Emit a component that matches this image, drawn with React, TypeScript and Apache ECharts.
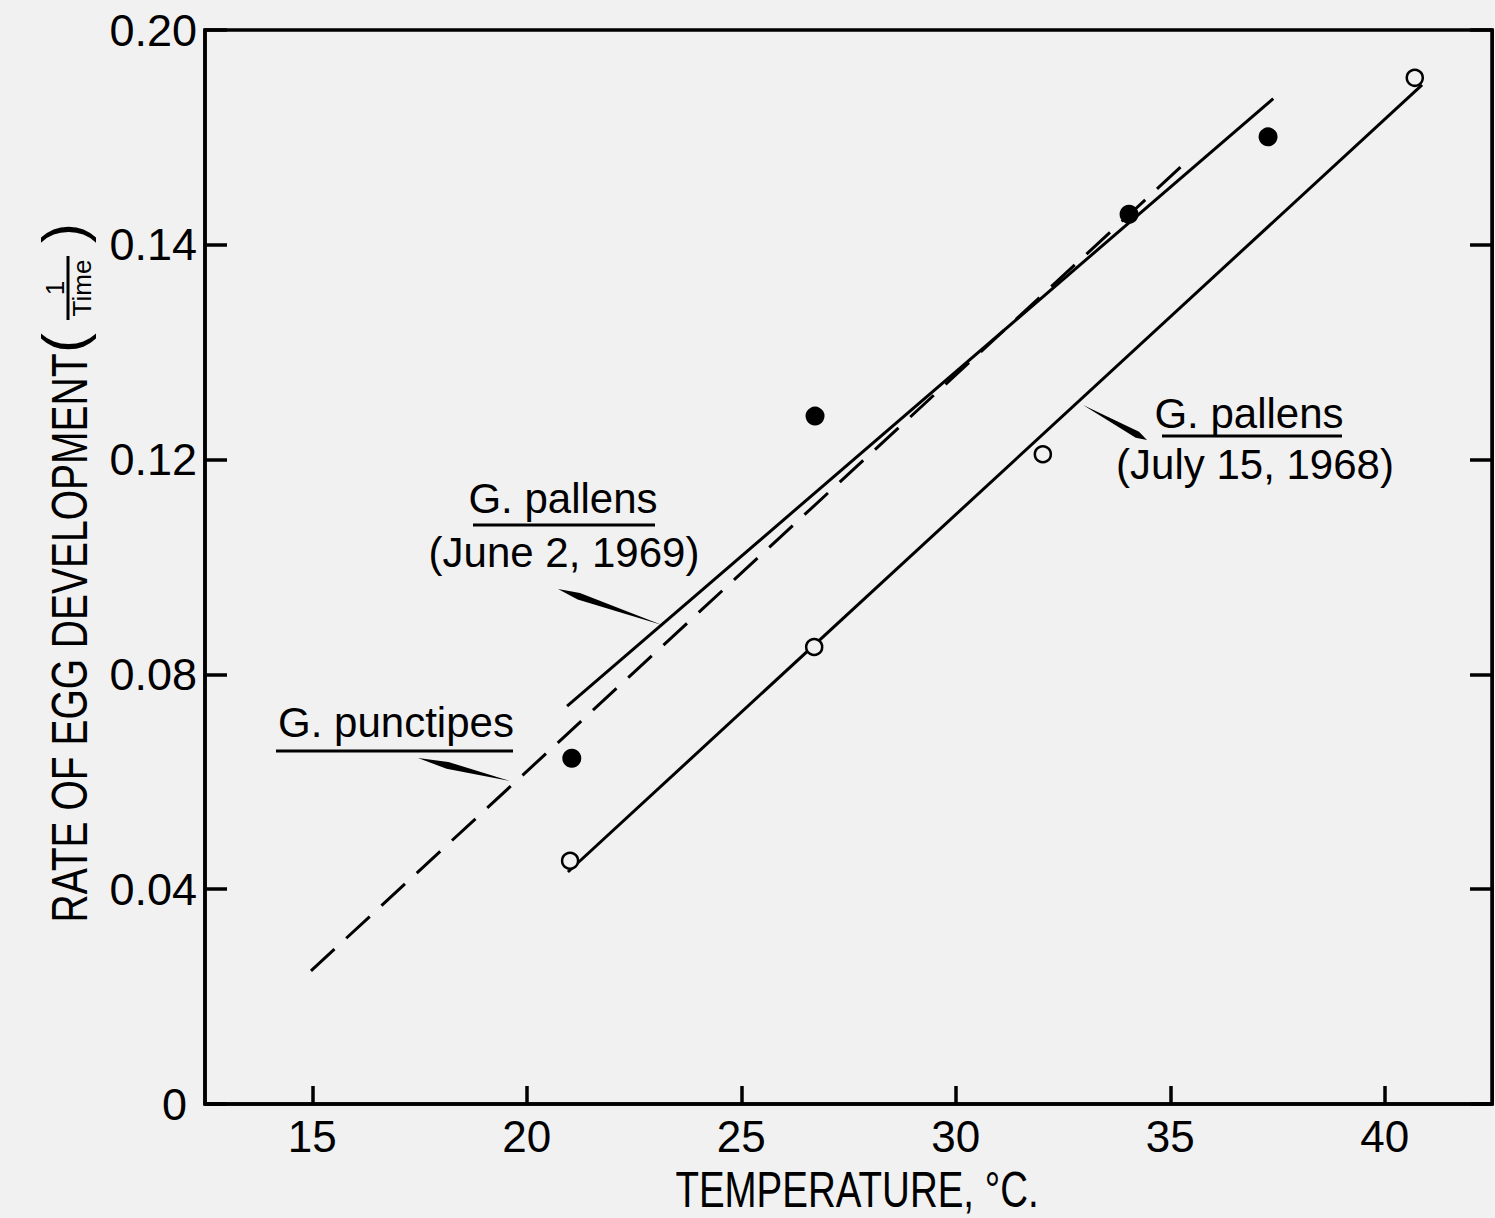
import React, { useEffect, useRef } from "react";
import * as echarts from "echarts";

// ---- data ----
const xTickValues = [15, 20, 25, 30, 35, 40];
const yTickValues = [0, 0.04, 0.08, 0.12, 0.16, 0.2];
const yTickLabels = ["0", "0.04", "0.08", "0.12", "0.14", "0.20"]; // as printed in the original

// G. pallens (June 2, 1969) – filled circles
const pallens1969Points: [number, number][] = [
  [21.05, 0.0644],
  [26.72, 0.1281],
  [34.04, 0.1657],
  [37.28, 0.1801],
];
// G. pallens (July 15, 1968) – open circles
const pallens1968Points: [number, number][] = [
  [21.01, 0.0453],
  [26.7, 0.0851],
  [32.03, 0.121],
  [40.7, 0.1911],
];
// fitted lines
const pallens1969Line: [number, number][] = [
  [20.94, 0.0741],
  [37.4, 0.1872],
];
const pallens1968Line: [number, number][] = [
  [20.96, 0.0432],
  [40.87, 0.1898],
];
const punctipesLine: [number, number][] = [
  [14.97, 0.0248],
  [35.3, 0.1749],
];

const BG = "#f1f1f1";
const INK = "#000";
const SANS = "'Liberation Sans', Arial, sans-serif";

function wedge(ax: number, ay: number, bx: number, by: number, f: number, w: number) {
  const dx = bx - ax;
  const dy = by - ay;
  const len = Math.sqrt(dx * dx + dy * dy);
  const nx = -dy / len;
  const ny = dx / len;
  const px = ax + dx * f;
  const py = ay + dy * f;
  return {
    type: "polygon",
    shape: {
      points: [
        [ax, ay],
        [px + (nx * w) / 2, py + (ny * w) / 2],
        [bx, by],
        [px - (nx * w) / 2, py - (ny * w) / 2],
      ],
    },
    style: { fill: INK },
    silent: true,
  };
}

function label(
  text: string,
  x: number,
  y: number,
  size = 42,
  rotation = 0,
  scaleX = 1
) {
  return {
    type: "text",
    x,
    y,
    rotation,
    scaleX,
    style: {
      text,
      fill: INK,
      font: `${size}px ${SANS}`,
      textAlign: "center",
      textVerticalAlign: "middle",
    },
    silent: true,
  };
}

function uline(x1: number, x2: number, y: number) {
  return {
    type: "line",
    shape: { x1, y1: y, x2, y2: y },
    style: { stroke: INK, lineWidth: 3 },
    silent: true,
  };
}

export default function App() {
  const ref = useRef<HTMLDivElement>(null);

  useEffect(() => {
    if (!ref.current) return;
    const chart = echarts.init(ref.current, null, { renderer: "svg" });

    const yFormatter = (v: number) => {
      const i = yTickValues.findIndex((t) => Math.abs(t - v) < 1e-9);
      if (i < 0) return "";
      return v === 0 ? `{z|${yTickLabels[i]}}` : `{n|${yTickLabels[i]}}`;
    };

    chart.setOption({
      animation: false,
      backgroundColor: BG,
      grid: {
        left: 205,
        right: 3,
        top: 30,
        bottom: 114,
        show: true,
        borderColor: INK,
        borderWidth: 3.5,
        backgroundColor: "transparent",
      },
      xAxis: {
        type: "value",
        min: 12.5,
        max: 42.5,
        axisLine: { show: true, lineStyle: { color: INK, width: 3.5 } },
        axisTick: {
          show: true,
          inside: true,
          length: 18,
          customValues: xTickValues,
          lineStyle: { color: INK, width: 3.5 },
        },
        axisLabel: {
          customValues: xTickValues,
          color: INK,
          fontSize: 44,
          fontFamily: SANS,
          margin: 10,
        },
        splitLine: { show: false },
      },
      yAxis: [
        {
          type: "value",
          min: 0,
          max: 0.2,
          interval: 0.04,
          axisLine: { show: true, lineStyle: { color: INK, width: 3.5 } },
          axisTick: {
            show: true,
            inside: true,
            length: 22,
            lineStyle: { color: INK, width: 3.5 },
          },
          axisLabel: {
            color: INK,
            margin: 8,
            formatter: yFormatter,
            rich: {
              n: { fontSize: 45, fontFamily: SANS, color: INK },
              z: { fontSize: 45, fontFamily: SANS, color: INK, padding: [0, 10, 0, 0] },
            },
          },
          splitLine: { show: false },
        },
        {
          type: "value",
          position: "right",
          min: 0,
          max: 0.2,
          interval: 0.04,
          axisLine: { show: true, lineStyle: { color: INK, width: 3 } },
          axisTick: {
            show: true,
            inside: true,
            length: 22,
            lineStyle: { color: INK, width: 3.5 },
          },
          axisLabel: { show: false },
          splitLine: { show: false },
        },
      ],
      series: [
        {
          name: "G. pallens (July 15, 1968) fit",
          type: "line",
          data: pallens1968Line,
          symbol: "none",
          lineStyle: { color: INK, width: 3 },
          z: 2,
        },
        {
          name: "G. pallens (June 2, 1969) fit",
          type: "line",
          data: pallens1969Line,
          symbol: "none",
          lineStyle: { color: INK, width: 3 },
          z: 2,
        },
        {
          name: "G. punctipes fit",
          type: "line",
          data: punctipesLine,
          symbol: "none",
          lineStyle: { color: INK, width: 3, type: [32, 16] },
          z: 2,
        },
        {
          name: "G. pallens (June 2, 1969)",
          type: "scatter",
          data: pallens1969Points,
          symbol: "circle",
          symbolSize: 19,
          itemStyle: { color: INK, opacity: 1 },
          z: 3,
        },
        {
          name: "G. pallens (July 15, 1968)",
          type: "scatter",
          data: pallens1968Points,
          symbol: "circle",
          symbolSize: 16,
          itemStyle: { color: BG, borderColor: INK, borderWidth: 2.5, opacity: 1 },
          z: 3,
        },
      ],
      graphic: [
        // axis titles (the original typeface is condensed)
        label("TEMPERATURE, °C.", 857, 1190, 50, 0, 0.77),
        label("RATE OF EGG DEVELOPMENT", 70, 638, 50, Math.PI / 2, 0.78),
        // (1 / Time)
        label("(", 63, 343, 60, Math.PI / 2),
        label(")", 63, 233, 60, Math.PI / 2),
        label("1", 55, 288, 26, Math.PI / 2),
        label("Time", 82, 288, 26, Math.PI / 2),
        {
          type: "line",
          shape: { x1: 68, y1: 256, x2: 68, y2: 320 },
          style: { stroke: INK, lineWidth: 3 },
          silent: true,
        },
        // July 15, 1968 annotation
        label("G. pallens", 1249, 413, 42),
        uline(1162, 1342, 436),
        label("(July 15, 1968)", 1255, 464, 42),
        wedge(1083, 405, 1147, 440, 0.85, 7),
        // June 2, 1969 annotation
        label("G. pallens", 563, 498, 42),
        uline(473, 655, 525),
        label("(June 2, 1969)", 564, 552, 42),
        wedge(662, 625, 558, 589, 0.8, 7),
        // G. punctipes annotation
        label("G. punctipes", 396, 722, 42),
        uline(276, 513, 751),
        wedge(510, 781, 418, 758, 0.68, 7),
      ],
    });

    return () => chart.dispose();
  }, []);

  return (
    <div
      ref={ref}
      style={{ position: "fixed", left: 0, top: 0, width: 1495, height: 1218 }}
    />
  );
}
